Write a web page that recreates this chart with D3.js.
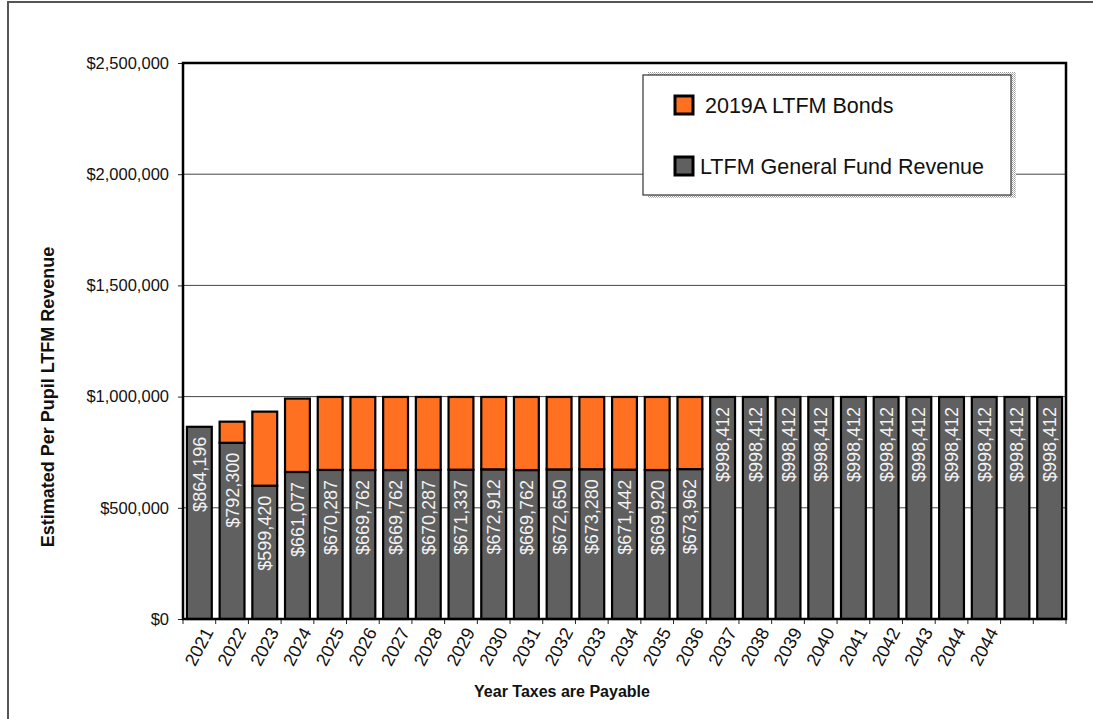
<!DOCTYPE html>
<html>
<head>
<meta charset="utf-8">
<script src="https://cdn.jsdelivr.net/npm/d3@7"></script>
<style>
  body { margin: 0; background: #fff; }
  svg { display: block; font-family: "Liberation Sans", Arial, sans-serif; }
</style>
</head>
<body>
<div id="chart"></div>
<script>
// category labels (last two slots have no label in the source)
var yearLabels = ["2021", "2022", "2023", "2024", "2025", "2026", "2027", "2028",
  "2029", "2030", "2031", "2032", "2033", "2034", "2035", "2036", "2037", "2038",
  "2039", "2040", "2041", "2042", "2043", "2044", "2044", "", ""];

// LTFM General Fund Revenue (labelled values)
var generalFund = [864196, 792300, 599420, 661077, 670287, 669762, 669762, 670287,
  671337, 672912, 669762, 672650, 673280, 671442, 669920, 673962,
  998412, 998412, 998412, 998412, 998412, 998412, 998412, 998412, 998412, 998412, 998412];

// 2019A LTFM Bonds
var bonds = [0, 95000, 333000, 330000, 328125, 328650, 328650, 328125,
  327075, 325500, 328650, 325762, 325132, 326970, 328492, 324450,
  0, 0, 0, 0, 0, 0, 0, 0, 0, 0, 0];

var yTicks = [0, 500000, 1000000, 1500000, 2000000, 2500000];

var seriesNames = ["LTFM General Fund Revenue", "2019A LTFM Bonds"];
var seriesColors = {"LTFM General Fund Revenue": "#606060", "2019A LTFM Bonds": "#ff7020"};

//chart parameters
var W = 1093, H = 719;
var margin = {top: 63, right: 27, bottom: 100, left: 183};
var width = W - margin.left - margin.right;
var height = H - margin.top - margin.bottom;

var svg = d3.select("#chart").append("svg")
  .attr("width", W)
  .attr("height", H);

// outer chart frame (only left and top edges are inside the picture)
svg.append("path")
  .attr("d", "M8," + H + "V2H" + W)
  .attr("fill", "none")
  .attr("stroke", "#555")
  .attr("stroke-width", 2);

var g = svg.append("g")
  .attr("transform", "translate(" + margin.left + "," + margin.top + ")");

var rows = yearLabels.map(function(d, i) {
  return {idx: i, label: d, "LTFM General Fund Revenue": generalFund[i], "2019A LTFM Bonds": bonds[i]};
});

var x = d3.scaleBand()
  .domain(d3.range(yearLabels.length))
  .range([0, width])
  .paddingInner(0.24)
  .paddingOuter(0.12);

var y = d3.scaleLinear()
  .domain([0, 2500000])
  .range([height, 0]);

var fmtMoney = function(v) { return "$" + d3.format(",")(v); };

// gridlines
g.append("g")
  .selectAll("line")
  .data(yTicks.filter(function(d) { return d > 0 && d < 2500000; }))
  .join("line")
  .attr("x1", 0).attr("x2", width)
  .attr("y1", function(d) { return y(d); })
  .attr("y2", function(d) { return y(d); })
  .attr("stroke", "#444")
  .attr("stroke-width", 1);

// y axis
var yAxis = d3.axisLeft(y)
  .tickValues(yTicks)
  .tickFormat(fmtMoney)
  .tickSizeInner(5)
  .tickSizeOuter(0)
  .tickPadding(9);

var yg = g.append("g").call(yAxis);
yg.select(".domain").remove();
yg.selectAll("text")
  .attr("font-size", 16.5)
  .attr("font-family", "Liberation Sans, Arial, sans-serif")
  .attr("fill", "#111");
yg.selectAll("line").attr("stroke", "#222");

// x ticks at band boundaries
g.append("g")
  .selectAll("line")
  .data(d3.range(yearLabels.length + 1))
  .join("line")
  .attr("x1", function(i) { return i * width / yearLabels.length; })
  .attr("x2", function(i) { return i * width / yearLabels.length; })
  .attr("y1", height)
  .attr("y2", height + 5)
  .attr("stroke", "#222");

// stacked bars
var stack = d3.stack().keys(seriesNames);
var layers = stack(rows);

g.append("g")
  .selectAll("g")
  .data(layers)
  .join("g")
  .attr("fill", function(d) { return seriesColors[d.key]; })
  .selectAll("rect")
  .data(function(d) { return d.filter(function(p) { return p[1] - p[0] > 0; }); })
  .join("rect")
  .attr("x", function(d) { return x(d.data.idx); })
  .attr("y", function(d) { return y(d[1]); })
  .attr("width", x.bandwidth())
  .attr("height", function(d) { return y(d[0]) - y(d[1]); })
  .attr("stroke", "#000")
  .attr("stroke-width", 2.2);

// value labels inside the gray segment
g.append("g")
  .selectAll("text")
  .data(rows)
  .join("text")
  .attr("transform", function(d) {
    return "translate(" + (x(d.idx) + x.bandwidth() / 2) + "," + (y(d["LTFM General Fund Revenue"]) + 10) + ") rotate(-90)";
  })
  .attr("text-anchor", "end")
  .attr("dy", "0.36em")
  .attr("font-size", 18)
  .attr("fill", "#f2f2f2")
  .text(function(d) { return fmtMoney(d["LTFM General Fund Revenue"]); });

// plot frame
g.append("rect")
  .attr("x", 0).attr("y", 0)
  .attr("width", width).attr("height", height)
  .attr("fill", "none")
  .attr("stroke", "#000")
  .attr("stroke-width", 2.5);

// x tick labels, rotated
g.append("g")
  .selectAll("text")
  .data(rows)
  .join("text")
  .attr("transform", function(d) {
    return "translate(" + (x(d.idx) + x.bandwidth() / 2 + 9) + "," + (height + 10) + ") rotate(-62)";
  })
  .attr("text-anchor", "end")
  .attr("dy", "0.35em")
  .attr("font-size", 18)
  .attr("fill", "#111")
  .text(function(d) { return d.label; });

// axis titles
svg.append("text")
  .attr("x", 562)
  .attr("y", 697)
  .attr("text-anchor", "middle")
  .attr("font-size", 16)
  .attr("font-weight", "bold")
  .attr("fill", "#111")
  .text("Year Taxes are Payable");

svg.append("text")
  .attr("transform", "translate(54,397) rotate(-90)")
  .attr("text-anchor", "middle")
  .attr("font-size", 18)
  .attr("font-weight", "bold")
  .attr("fill", "#111")
  .text("Estimated Per Pupil LTFM Revenue");

// legend with shadow
var defs = svg.append("defs");
var pat = defs.append("pattern")
  .attr("id", "shade")
  .attr("width", 2).attr("height", 2)
  .attr("patternUnits", "userSpaceOnUse");
pat.append("rect").attr("width", 2).attr("height", 2).attr("fill", "#fff");
pat.append("rect").attr("width", 1).attr("height", 1).attr("fill", "#999");
pat.append("rect").attr("x", 1).attr("y", 1).attr("width", 1).attr("height", 1).attr("fill", "#bbb");

var lg = {x: 643, y: 75, w: 368, h: 120};
svg.append("rect")
  .attr("x", lg.x + 5).attr("y", lg.y - 3)
  .attr("width", lg.w).attr("height", lg.h + 6)
  .attr("fill", "url(#shade)");
svg.append("rect")
  .attr("x", lg.x).attr("y", lg.y)
  .attr("width", lg.w).attr("height", lg.h)
  .attr("fill", "#fff")
  .attr("stroke", "#333")
  .attr("stroke-width", 1.2);

var legendItems = ["2019A LTFM Bonds", "LTFM General Fund Revenue"];
var li = svg.append("g")
  .selectAll("g")
  .data(legendItems)
  .join("g")
  .attr("transform", function(d, i) { return "translate(" + (lg.x + 32) + "," + (lg.y + 21 + i * 61) + ")"; });
li.append("rect")
  .attr("width", 18).attr("height", 18)
  .attr("fill", function(d) { return seriesColors[d]; })
  .attr("stroke", "#000")
  .attr("stroke-width", 3);
li.append("text")
  .attr("x", function(d, i) { return i === 0 ? 30 : 25; })
  .attr("y", 9)
  .attr("dy", "0.36em")
  .attr("font-size", 21.5)
  .attr("fill", "#111")
  .text(function(d) { return d; });
</script>
</body>
</html>
